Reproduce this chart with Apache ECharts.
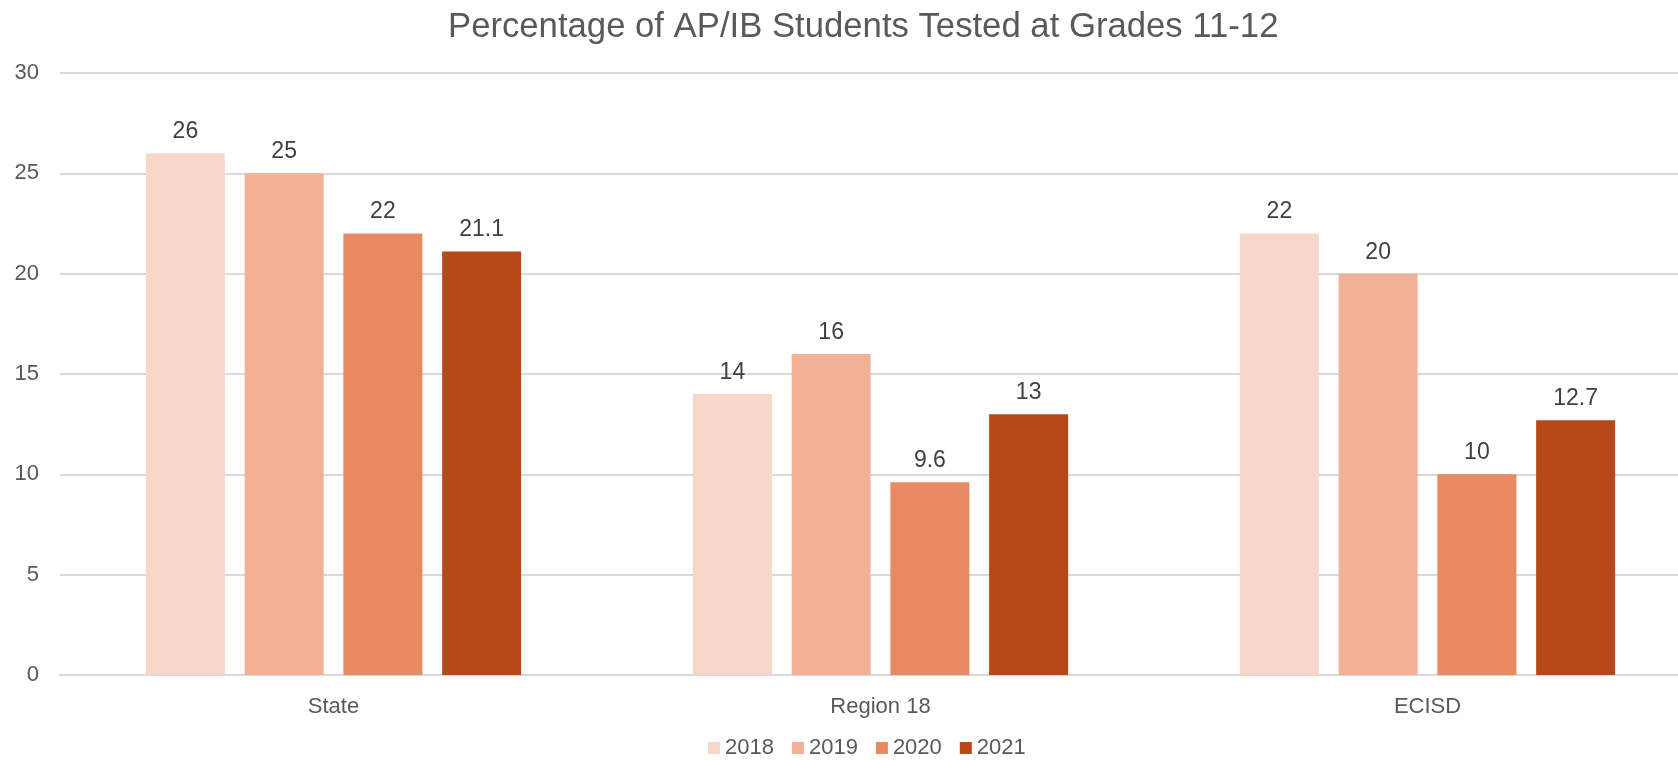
<!DOCTYPE html>
<html>
<head>
<meta charset="utf-8">
<title>Percentage of AP/IB Students Tested at Grades 11-12</title>
<script src="https://cdn.jsdelivr.net/npm/echarts@6/dist/echarts.min.js"></script>
<style>
  html, body { margin: 0; padding: 0; background: #fff; }
  #chart { width: 1678px; height: 760px; }
</style>
</head>
<body>
<div id="chart"></div>
<script>
// categories on the x axis
const categories = ["State", "Region 18", "ECISD"];
// one series per year
const years = ["2018", "2019", "2020", "2021"];
const values2018 = [26, 14, 22];
const values2019 = [25, 16, 20];
const values2020 = [22, 9.6, 10];
const values2021 = [21.1, 13, 12.7];
const yTicks = [0, 5, 10, 15, 20, 25, 30];

const seriesValues = [values2018, values2019, values2020, values2021];
const colors = ["#F7D7CA", "#F0B196", "#E88961", "#B54918"];
const font = "'Liberation Sans', Arial, sans-serif";

const chart = echarts.init(document.getElementById("chart"));

const option = {
  color: colors,
  animation: false,
  title: {
    text: "Percentage of AP/IB Students Tested at Grades 11-12",
    left: 443,
    top: 5,
    textStyle: {
      color: "#595959",
      fontFamily: font,
      fontSize: 34.7,
      fontWeight: "normal",
    },
  },
  legend: {
    data: years,
    left: 703,
    top: 732,
    itemWidth: 12,
    itemHeight: 12,
    itemGap: 18,
    icon: "rect",
    textStyle: {
      color: "#595959",
      fontFamily: font,
      fontSize: 22,
    },
  },
  // the plot runs past the right edge, like the cropped original
  grid: {
    left: 60,
    top: 73,
    width: 1641,
    height: 602,
    containLabel: false,
    outerBoundsMode: "none",
  },
  xAxis: {
    type: "category",
    data: categories,
    axisTick: { show: false },
    axisLine: { lineStyle: { color: "#D9D9D9", width: 2 } },
    axisLabel: {
      color: "#595959",
      fontFamily: font,
      fontSize: 22,
      margin: 21,
    },
  },
  yAxis: {
    type: "value",
    min: yTicks[0],
    max: yTicks[yTicks.length - 1],
    interval: 5,
    axisLine: { show: false },
    axisTick: { show: false },
    axisLabel: {
      color: "#595959",
      fontFamily: font,
      fontSize: 22,
      margin: 21,
    },
    splitLine: { lineStyle: { color: "#D9D9D9", width: 2 } },
  },
  series: years.map((y, i) => ({
    name: y,
    type: "bar",
    data: seriesValues[i],
    barWidth: 79,
    barGap: "25%",
    label: {
      show: true,
      position: "top",
      distance: 10,
      color: "#404040",
      fontFamily: font,
      fontSize: 23,
    },
  })),
};

chart.setOption(option);
</script>
</body>
</html>
